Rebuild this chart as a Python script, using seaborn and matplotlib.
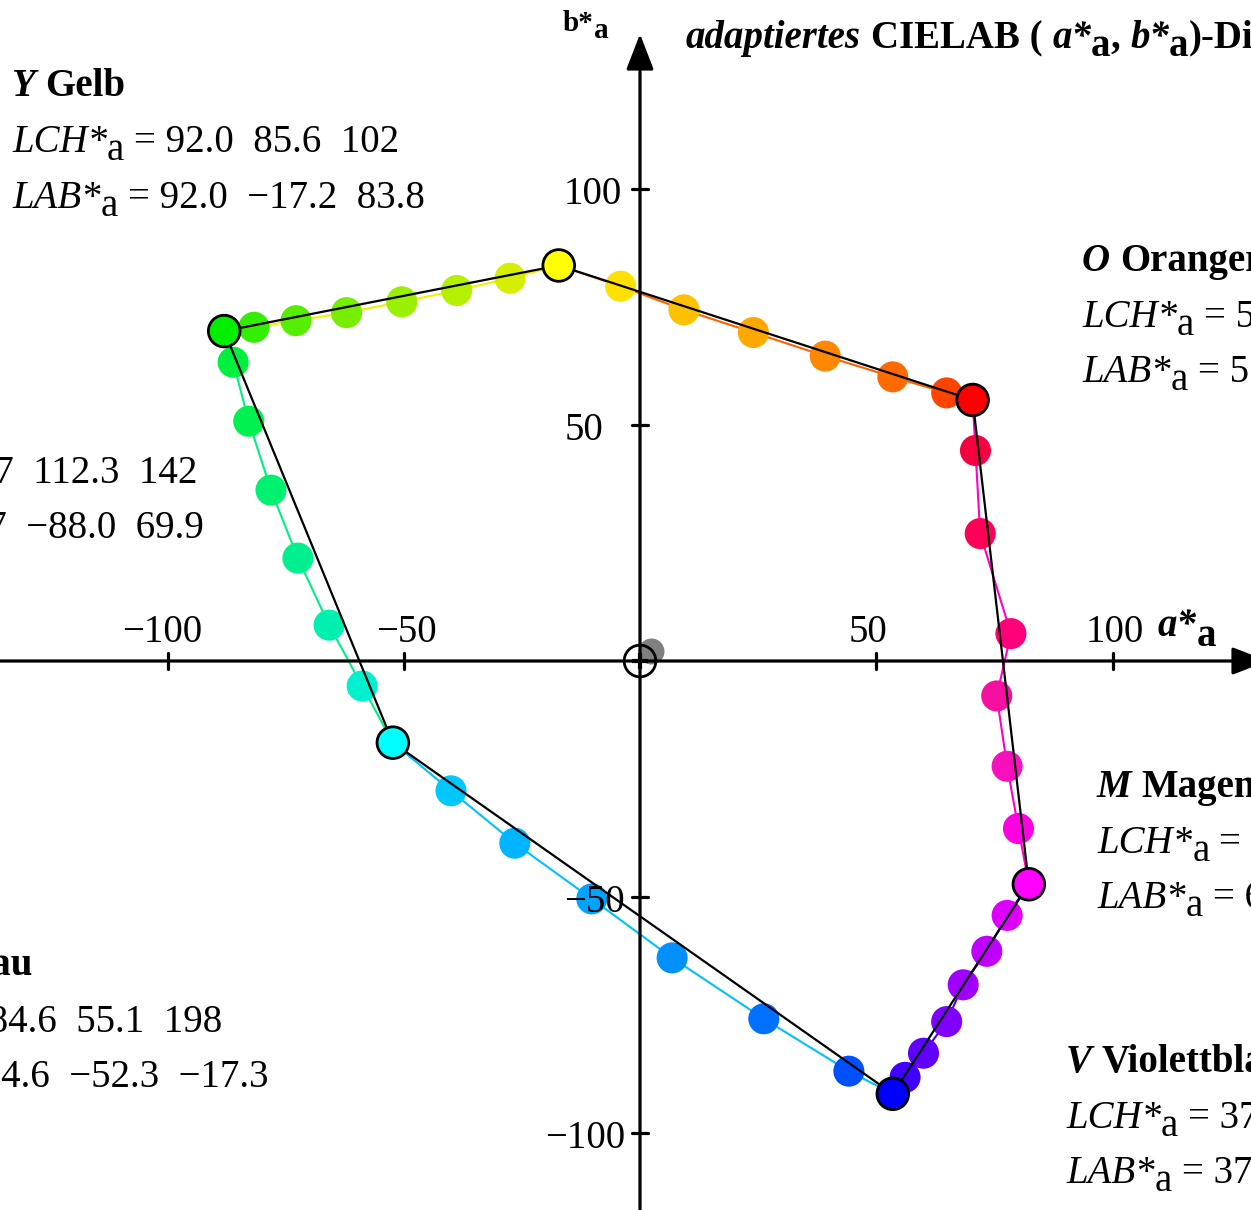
import numpy as np
import pandas as pd
import matplotlib
matplotlib.use("Agg")
import matplotlib.pyplot as plt
import seaborn as sns

# ---------------- data ----------------
corner_names = ["Y", "O", "M", "V", "C", "G"]
corner_a = [-17.2, 70.4, 82.3, 53.5, -52.3, -88.0]
corner_b = [83.8, 55.3, -47.3, -91.7, -17.3, 69.9]
corner_colors = ["#ffff00", "#ff0000", "#ff00ff", "#0000ff", "#00ffff", "#00ee00"]

# line colour of each segment Y->O, O->M, M->V, V->C, C->G, G->Y
segment_line_colors = ["#ff6000", "#ff00c8", "#4000ff", "#00c0ff", "#00f080", "#f0f000"]

# intermediate hue steps (6 per segment, in the order Y->O, O->M, M->V, V->C, C->G, G->Y)
step_a = [-4.1, 9.3, 24.0, 39.2, 53.5, 64.9,
          71.0, 72.0, 78.5, 75.5, 77.7, 80.1,
          77.7, 73.4, 68.4, 64.9, 60.0, 56.1,
          44.2, 26.2, 6.8, -10.2, -26.5, -40.0,
          -58.8, -65.8, -72.4, -78.1, -82.8, -86.1,
          -81.7, -72.8, -62.1, -50.4, -38.8, -27.5]
step_b = [79.4, 74.4, 69.6, 64.6, 60.2, 56.8,
          44.6, 27.0, 5.8, -7.4, -22.3, -35.5,
          -53.9, -61.5, -68.6, -76.4, -83.1, -88.2,
          -86.9, -75.8, -62.9, -50.4, -38.6, -27.5,
          -5.3, 7.6, 21.8, 36.2, 50.8, 63.3,
          70.7, 72.1, 73.8, 76.1, 78.5, 81.1]
step_colors = ["#ffe000", "#ffc000", "#ffa800", "#ff8800", "#ff6a00", "#ff4400",
               "#f50040", "#ff0058", "#ff0078", "#f510a0", "#f810bc", "#ff00e0",
               "#dd00ff", "#c000ff", "#a000ff", "#8000ff", "#6000ff", "#4000ff",
               "#0050ff", "#0070ff", "#0090ff", "#00a4ff", "#00b4ff", "#00c8ff",
               "#00f0d0", "#00f0b0", "#00f090", "#00f070", "#00f050", "#00f040",
               "#33ee00", "#55ee00", "#77ee00", "#99f000", "#b4f000", "#d4f000"]

gray_a = [2.3]
gray_b = [2.1]

x_ticks = [-100, -50, 50, 100]
x_tick_labels = ["\u2212100", "\u221250", "50", "100"]
y_ticks = [100, 50, -50, -100]
y_tick_labels = ["100", "50", "\u221250", "\u2212100"]

block_letters = ["Y", "O", "M", "V", "C", "G"]
block_names = ["Gelb", "Orangerot", "Magentarot", "Violettblau", "Cyanblau", "Grün"]
block_lch = ["92.0  85.6  102", "57.0  89.5  38", "63.0  95.0  330",
             "37.0  106.2  300", "84.6  55.1  198", "81.7  112.3  142"]
block_lab = ["92.0  \u221217.2  83.8", "57.0  70.4  55.3", "63.0  82.3  \u221247.3",
             "37.0  53.5  \u221291.7", "84.6  \u221252.3  \u221217.3", "81.7  \u221288.0  69.9"]

# ---------------- style ----------------
sns.set_style("white")
plt.rcParams["font.family"] = ["Liberation Serif", "DejaVu Serif"]
plt.rcParams["text.color"] = "black"

W, H = 1251, 1210
fig = plt.figure(figsize=(W / 100, H / 100), dpi=100)
ax = fig.add_axes([0, 0, 1, 1])
sx, sy = 4.725, 4.72
x0px, y0px = 640, 661
ax.set_xlim(-x0px / sx, (W - x0px) / sx)
ax.set_ylim(-(H - y0px) / sy, y0px / sy)
ax.set_axis_off()

# ---------------- coloured hue lines ----------------
n = len(corner_names)
for i in range(n):
    j = (i + 1) % n
    seg = pd.DataFrame({
        "a": [corner_a[i]] + step_a[6 * i:6 * i + 6] + [corner_a[j]],
        "b": [corner_b[i]] + step_b[6 * i:6 * i + 6] + [corner_b[j]],
    })
    sns.lineplot(data=seg, x="a", y="b", sort=False, estimator=None,
                 color=segment_line_colors[i], lw=1.5, ax=ax, zorder=2)

# small hue circles
steps = pd.DataFrame({"a": step_a, "b": step_b, "id": [str(k) for k in range(len(step_a))]})
sns.scatterplot(data=steps, x="a", y="b", hue="id",
                palette=dict(zip(steps["id"], step_colors)),
                s=500, linewidth=0, legend=False, ax=ax, zorder=3)

# gray point
sns.scatterplot(x=gray_a, y=gray_b, color="#808080", s=350, linewidth=0, ax=ax, zorder=3)

# black hexagon through corners
poly = pd.DataFrame({"a": corner_a + [corner_a[0]], "b": corner_b + [corner_b[0]]})
sns.lineplot(data=poly, x="a", y="b", sort=False, estimator=None,
             color="black", lw=1.6, ax=ax, zorder=4)

# corner circles
corners = pd.DataFrame({"a": corner_a, "b": corner_b, "name": corner_names})
sns.scatterplot(data=corners, x="a", y="b", hue="name",
                palette=dict(zip(corner_names, corner_colors)),
                s=520, edgecolor="black", linewidth=2.0, legend=False, ax=ax, zorder=5)

# ---------------- axes with arrows ----------------
xmin, xmax = ax.get_xlim()
ymin, ymax = ax.get_ylim()
arrow_kw = dict(arrowstyle="-|>,head_length=22,head_width=8.5", lw=2.3, color="black",
                shrinkA=0, shrinkB=0, mutation_scale=1)
ax.annotate("", xy=((1268 - x0px) / sx, 0), xytext=(xmin, 0),
            arrowprops=arrow_kw, annotation_clip=False, zorder=6)
ax.annotate("", xy=(0, (y0px - 34) / sy), xytext=(0, ymin),
            arrowprops=arrow_kw, annotation_clip=False, zorder=6)

x_label_center_px = [162, 406, 868, 1115]
y_label_right_px = [622, 603, 625, 625]
tick_half = 1.75
for t, lab, cpx in zip(x_ticks, x_tick_labels, x_label_center_px):
    ax.plot([t, t], [-tick_half, tick_half], color="black", lw=2.3, zorder=6)
    ax.text((cpx - x0px) / sx, 4.0, lab, ha="center", va="baseline", fontsize=28)
for t, lab, rpx in zip(y_ticks, y_tick_labels, y_label_right_px):
    ax.plot([-tick_half, tick_half], [t, t], color="black", lw=2.3, zorder=6)
    ax.text((rpx - x0px) / sx, t - 3.2, lab, ha="right", va="baseline", fontsize=28)

# origin mark
ax.scatter([0], [0], s=520, facecolors="none", edgecolors="black", linewidths=2.0, zorder=7)
ax.scatter([0], [0], s=140, marker="+", color="black", linewidths=3.0, zorder=7)


# ---------------- rich text helper (full-size lowered subscripts) ----------------
def rich(x_px, base_px, parts, fs):
    """parts: (text, weight, style, dx_em, dy_em) chained left to right."""
    s, w, st, _, _ = parts[0]
    first = fig.text(x_px / W, 1 - base_px / H, s, fontsize=fs, fontweight=w,
                     fontstyle=st, ha="left", va="baseline")
    prev = first
    items = [first]
    for s, w, st, dx, dy in parts[1:]:
        t = ax.annotate(s, xy=(1, 0), xycoords=prev, xytext=(dx * fs, dy * fs),
                        textcoords="offset points", fontsize=fs, fontweight=w,
                        fontstyle=st, ha="left", va="bottom", annotation_clip=False)
        items.append(t)
        prev = t
    return items


SUB = 0.2
SP = 0.25


def star_label(prefix, value, weight="normal", pstyle="italic"):
    return [(prefix + "*", weight, pstyle, 0, 0),
            ("a", weight, "normal", 0, -SUB),
            ("= " + value, weight, "normal", SP, SUB)]


# axis labels
rich(1158, 636, [("a*", "bold", "italic", 0, 0), ("a", "bold", "normal", 0, -0.25)], 28)
rich(563, 31, [("b*", "bold", "normal", 0, 0), ("a", "bold", "normal", 0, -0.25)], 21)

# title (cropped at the right)
rich(686, 48, [("adaptiertes", "bold", "italic", 0, 0),
               ("CIELAB (", "bold", "normal", SP, 0),
               ("a*", "bold", "italic", SP, 0),
               ("a", "bold", "normal", 0, -SUB),
               (",", "bold", "normal", 0, SUB),
               ("b*", "bold", "italic", SP, 0),
               ("a", "bold", "normal", 0, -SUB),
               (")-Diagramm", "bold", "normal", 0, SUB)], 28)

# ---------------- text blocks ----------------
FS = 28


def block(idx, x_px, bases):
    rich(x_px, bases[0], [(block_letters[idx], "bold", "italic", 0, 0),
                          (block_names[idx], "bold", "normal", SP, 0)], FS)
    rich(x_px, bases[1], star_label("LCH", block_lch[idx]), FS)
    rich(x_px, bases[2], star_label("LAB", block_lab[idx]), FS)


def block_right(idx, right_px, bases):
    renderer = fig.canvas.get_renderer()
    items = rich(0, bases[1], star_label("LCH", block_lch[idx]), FS)
    x1 = items[-1].get_window_extent(renderer).x1
    for it in items:
        it.remove()
    block(idx, right_px - x1, bases)


block(0, 12, [96, 152, 208])            # Y
block(1, 1082, [271, 327, 382])         # O
block(2, 1097, [797, 853, 908])         # M
block(3, 1066, [1072, 1128, 1183])      # V
block_right(4, 222, [975, 1032, 1087])  # C
block_right(5, 197, [428, 483, 538])    # G

fig.savefig("out.png", dpi=100)
